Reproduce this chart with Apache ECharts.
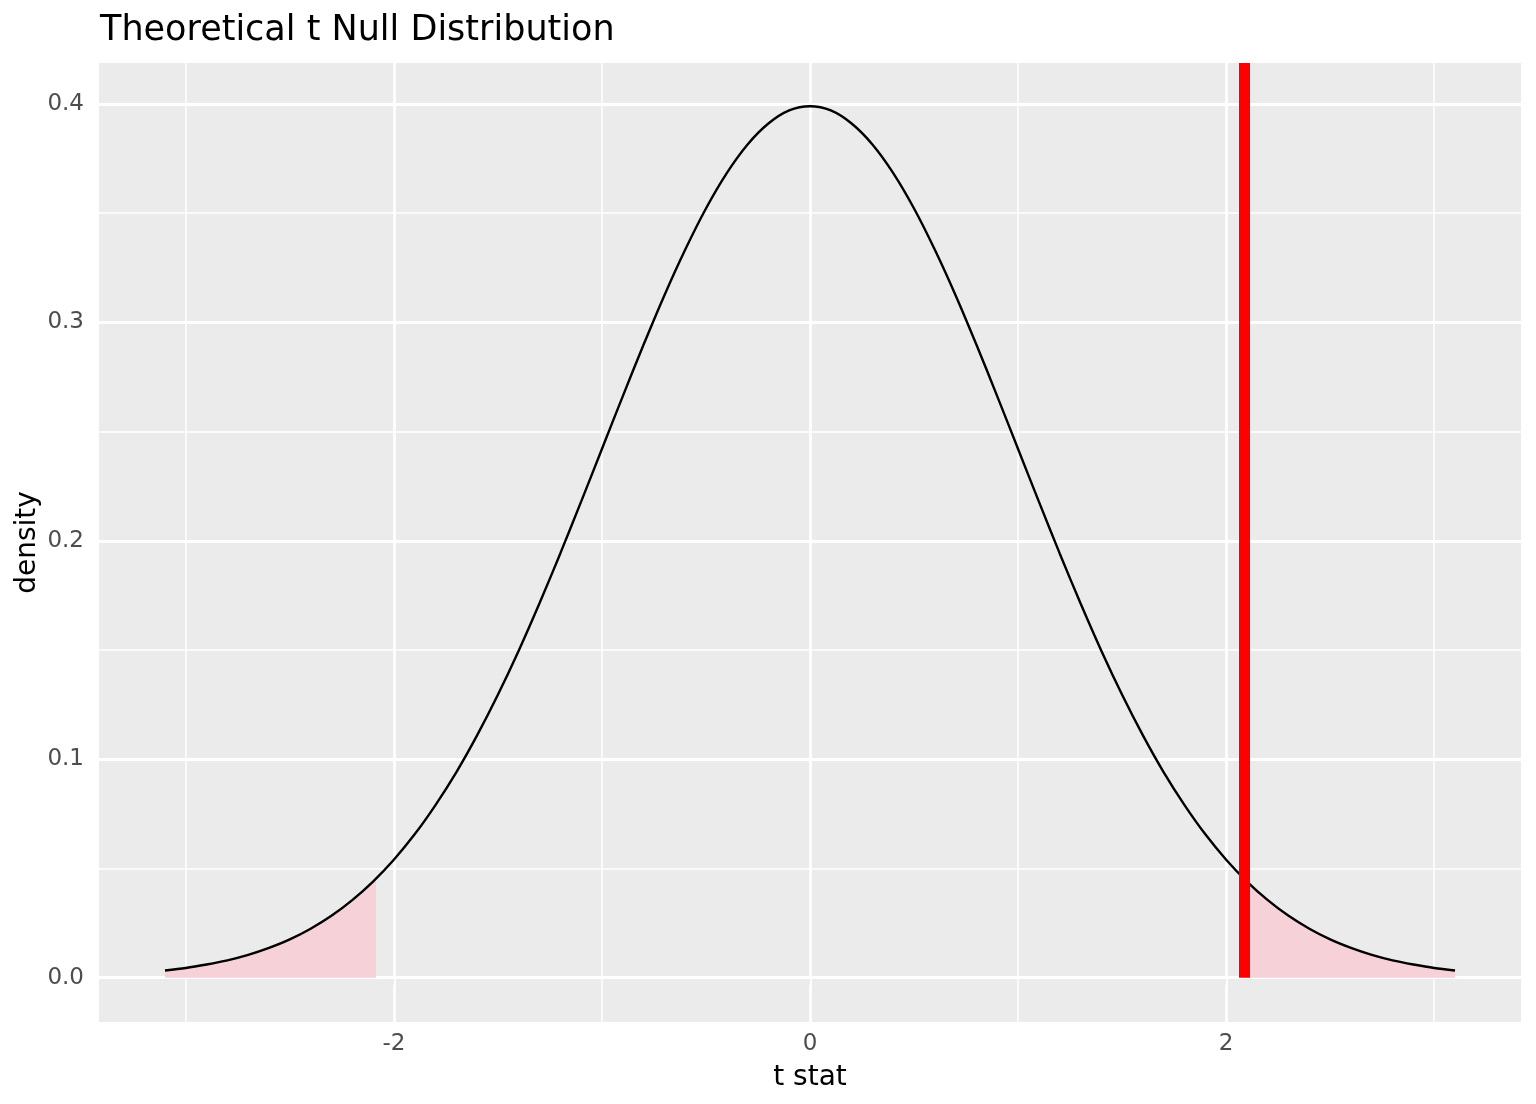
<!DOCTYPE html>
<html>
<head>
<meta charset="utf-8">
<script src="https://cdn.jsdelivr.net/npm/echarts@6/dist/echarts.min.js"></script>
<style>
html,body{margin:0;padding:0;background:#fff;}
#chart{width:1536px;height:1104px;}
</style>
</head>
<body>
<div id="chart"></div>
<script>
// ---- data ----
const tStat = [-3.1,-3.0,-2.9,-2.8,-2.7,-2.6,-2.5,-2.4,-2.3,-2.2,-2.1,-2.0,-1.9,-1.8,-1.7,-1.6,-1.5,-1.4,-1.3,-1.2,-1.1,-1.0,-0.9,-0.8,-0.7,-0.6,-0.5,-0.4,-0.3,-0.2,-0.1,0.0,
  0.1,0.2,0.3,0.4,0.5,0.6,0.7,0.8,0.9,1.0,1.1,1.2,1.3,1.4,1.5,1.6,1.7,1.8,1.9,2.0,2.1,2.2,2.3,2.4,2.5,2.6,2.7,2.8,2.9,3.0,3.1];
const density = [0.0033,0.0044,0.0060,0.0079,0.0104,0.0136,0.0175,0.0224,0.0283,0.0355,0.0440,0.0540,0.0656,0.0790,0.0940,0.1109,0.1295,0.1497,0.1714,0.1942,0.2179,0.2420,0.2661,0.2897,0.3123,0.3332,0.3521,0.3683,0.3814,0.3910,0.3970,0.3989,
  0.3970,0.3910,0.3814,0.3683,0.3521,0.3332,0.3123,0.2897,0.2661,0.2420,0.2179,0.1942,0.1714,0.1497,0.1295,0.1109,0.0940,0.0790,0.0656,0.0540,0.0440,0.0355,0.0283,0.0224,0.0175,0.0136,0.0104,0.0079,0.0060,0.0044,0.0033];
const obsStat = 2.086;        // observed t statistic (red line)
const obsDensity = 0.0453;    // curve height at the observed statistic
const xMajorTicks = [-2, 0, 2];
const xMinorTicks = [-3, -1, 1, 3];
const yMajorTicks = [0, 0.1, 0.2, 0.3, 0.4];
const yMinorTicks = [0.05, 0.15, 0.25, 0.35];
const xRange = [-3.417, 3.417];
const yRange = [-0.0203, 0.4187];

// ---- derived series ----
const curve = tStat.map((x, i) => [x, density[i]]);
const leftTail = curve.filter(p => p[0] <= -obsStat).concat([[-obsStat, obsDensity]]);
const rightTail = [[obsStat, obsDensity]].concat(curve.filter(p => p[0] >= obsStat));

const FONT = 'DejaVu Sans';
const gridLines = []
  .concat(xMinorTicks.map(v => ({xAxis: v, lineStyle: {width: 1.5}})))
  .concat(yMinorTicks.map(v => ({yAxis: v, lineStyle: {width: 1.5}})))
  .concat(xMajorTicks.map(v => ({xAxis: v, lineStyle: {width: 2.8}})))
  .concat(yMajorTicks.map(v => ({yAxis: v, lineStyle: {width: 2.8}})));

const chart = echarts.init(document.getElementById('chart'), null, {renderer: 'canvas'});
chart.setOption({
  animation: false,
  backgroundColor: '#FFFFFF',
  textStyle: {fontFamily: FONT},
  title: {
    text: 'Theoretical t Null Distribution',
    left: 95, top: 8,
    textStyle: {fontFamily: FONT, fontSize: 35, fontWeight: 'normal', color: '#000000'}
  },
  grid: {
    left: 99, right: 15, top: 63, bottom: 82,
    show: true, backgroundColor: '#EBEBEB', borderWidth: 0
  },
  xAxis: {
    type: 'value', min: xRange[0], max: xRange[1],
    name: 't stat', nameLocation: 'middle', nameGap: 42, nameMoveOverlap: false,
    nameTextStyle: {fontFamily: FONT, fontSize: 28, color: '#000000'},
    axisLine: {show: false},
    splitLine: {show: false},
    axisTick: {show: true, customValues: xMajorTicks, length: 7, lineStyle: {color: '#333333', width: 2}},
    axisLabel: {customValues: xMajorTicks, fontSize: 23, color: '#4D4D4D', margin: 11, fontFamily: FONT,
      formatter: v => String(v)}
  },
  yAxis: {
    type: 'value', min: yRange[0], max: yRange[1],
    name: 'density', nameLocation: 'middle', nameGap: 57, nameRotate: 90, nameMoveOverlap: false,
    nameTextStyle: {fontFamily: FONT, fontSize: 28, color: '#000000'},
    axisLine: {show: false},
    splitLine: {show: false},
    axisTick: {show: true, customValues: yMajorTicks, length: 7, lineStyle: {color: '#333333', width: 2}},
    axisLabel: {customValues: yMajorTicks, fontSize: 23, color: '#4D4D4D', margin: 15, fontFamily: FONT,
      formatter: v => v.toFixed(1)}
  },
  series: [
    {
      name: 'grid', type: 'line', data: [], z: 1, silent: true,
      markLine: {
        z: 1, silent: true, symbol: ['none', 'none'], label: {show: false},
        emphasis: {disabled: true},
        lineStyle: {color: '#FFFFFF', type: 'solid'},
        data: gridLines
      }
    },
    {
      name: 'left tail', type: 'line', data: leftTail, z: 2, symbol: 'none', smooth: 0.3,
      lineStyle: {width: 0}, areaStyle: {color: '#F6D1D8', opacity: 1}, silent: true
    },
    {
      name: 'right tail', type: 'line', data: rightTail, z: 2, symbol: 'none', smooth: 0.3,
      lineStyle: {width: 0}, areaStyle: {color: '#F6D1D8', opacity: 1}, silent: true
    },
    {
      name: 'density', type: 'line', data: curve, z: 3, symbol: 'none', smooth: 0.3,
      lineStyle: {color: '#000000', width: 2.4}, silent: true
    },
    {
      name: 'observed', type: 'line', data: [], z: 4, silent: true,
      markLine: {
        z: 6, silent: true, symbol: ['none', 'none'], label: {show: false},
        emphasis: {disabled: true},
        lineStyle: {color: '#FF0000', width: 11, type: 'solid', cap: 'butt'},
        data: [[{coord: [obsStat, 0]}, {coord: [obsStat, yRange[1]]}]]
      }
    }
  ]
});
</script>
</body>
</html>
